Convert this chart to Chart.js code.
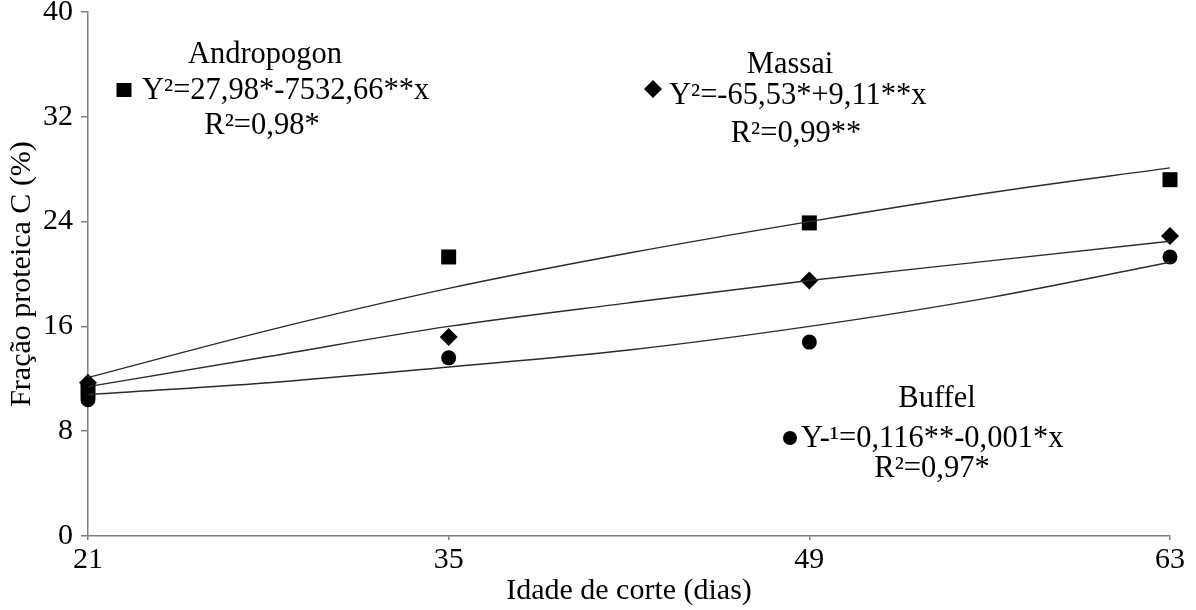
<!DOCTYPE html>
<html>
<head>
<meta charset="utf-8">
<script src="https://cdn.jsdelivr.net/npm/chart.js@4"></script>
<style>
  html, body { margin: 0; padding: 0; background: #fff; }
  #wrap { width: 1196px; height: 610px; }
</style>
</head>
<body>
<div id="wrap"><canvas id="mycanvas" width="1196" height="610"></canvas></div>
<script>
const ctx = document.querySelector("#mycanvas").getContext("2d");

// observed values
const days = [21, 35, 49, 63];
const andropogon = [11.1, 21.3, 23.9, 27.2];
const massai = [11.7, 15.2, 19.5, 22.9];
const buffel = [10.4, 13.6, 14.8, 21.3];

// fitted curves
const fitDays = [21, 28, 35, 42, 49, 56, 63];
const andropogonFit = [12.1, 15.7, 18.9, 21.6, 24.0, 26.2, 28.1];
const massaiFit = [11.4, 13.7, 16.0, 17.8, 19.5, 21.0, 22.5];
const buffelFit = [10.8, 11.7, 12.9, 14.2, 16.0, 18.2, 20.9];

const yTicks = [0, 8, 16, 24, 32, 40];

const FONT = "'Liberation Serif', 'Times New Roman', serif";
const AXIS = "#7f7f7f";

const pts = (xs, ys) => xs.map((x, i) => ({ x, y: ys[i] }));

function fitLine(xs, ys) {
  return {
    type: "line",
    data: pts(xs, ys),
    borderColor: "#2b2b2b",
    borderWidth: 1.4,
    pointRadius: 0,
    cubicInterpolationMode: "monotone",
    fill: false,
    clip: false,
  };
}

function marks(ys, style, radius) {
  return {
    type: "scatter",
    data: pts(days, ys),
    pointStyle: style,
    pointRadius: radius,
    pointHoverRadius: radius,
    backgroundColor: "#000",
    borderColor: "#000",
    borderWidth: 0,
    clip: false,
  };
}

// equation labels and their markers
const notes = [
  { lines: [["Andropogon", 265, 63, "center"], ["Y²=27,98*-7532,66**x", 142, 99, "left"], ["R²=0,98*", 262, 134, "center"]],
    mark: ["rect", 124, 90] },
  { lines: [["Massai", 790, 73, "center"], ["Y²=-65,53*+9,11**x", 669, 104, "left"], ["R²=0,99**", 796, 142, "center"]],
    mark: ["diamond", 653, 89] },
  { lines: [["Buffel", 937, 407, "center"], ["Y-¹=0,116**-0,001*x", 801, 447, "left"], ["R²=0,97*", 932, 477, "center"]],
    mark: ["circle", 790, 438] },
];

const notesPlugin = {
  id: "notes",
  afterDraw(chart) {
    const c = chart.ctx;
    c.save();
    c.fillStyle = "#000";
    c.font = "30.5px " + FONT;
    c.textBaseline = "alphabetic";
    notes.forEach(n => {
      n.lines.forEach(([t, x, y, a]) => {
        c.textAlign = a;
        c.fillText(t, x, y);
      });
      const [s, mx, my] = n.mark;
      c.beginPath();
      if (s === "rect") {
        c.rect(mx - 7.5, my - 7, 15, 14);
      } else if (s === "diamond") {
        c.moveTo(mx, my - 9); c.lineTo(mx + 9, my); c.lineTo(mx, my + 9); c.lineTo(mx - 9, my);
        c.closePath();
      } else {
        c.arc(mx, my, 7, 0, Math.PI * 2);
      }
      c.fill();
    });
    c.restore();
  },
};

const config = {
  data: {
    datasets: [
      fitLine(fitDays, andropogonFit),
      fitLine(fitDays, massaiFit),
      fitLine(fitDays, buffelFit),
      marks(andropogon, "rect", 10.6),
      marks(massai, "rectRot", 9),
      marks(buffel, "circle", 7.5),
    ],
  },
  options: {
    responsive: false,
    animation: false,
    events: [],
    layout: { padding: { top: 0, right: 26, left: 0, bottom: 0 } },
    plugins: { legend: { display: false }, tooltip: { enabled: false } },
    scales: {
      x: {
        type: "linear",
        min: 21,
        max: 63,
        afterBuildTicks: (s) => { s.ticks = days.map(v => ({ value: v })); },
        afterFit: (s) => { s.height = 74; },
        grid: { drawOnChartArea: false, tickLength: 4, color: AXIS, lineWidth: 1.5 },
        border: { color: AXIS, width: 1.5 },
        ticks: { color: "#000", padding: 2, font: { family: FONT, size: 30 } },
        title: {
          display: true,
          text: "Idade de corte (dias)",
          color: "#000",
          font: { family: FONT, size: 30 },
          padding: { top: 0, bottom: 1 },
        },
      },
      y: {
        min: 0,
        max: 40,
        afterBuildTicks: (s) => { s.ticks = yTicks.map(v => ({ value: v })); },
        afterFit: (s) => { s.width = 88; s.paddingTop = 12; },
        grid: { drawOnChartArea: false, tickLength: 7, color: AXIS, lineWidth: 1.5 },
        border: { color: AXIS, width: 1.5 },
        ticks: { color: "#000", padding: 8, font: { family: FONT, size: 30, lineHeight: 0.8 } },
        title: {
          display: true,
          text: "Fração proteica C (%)",
          color: "#000",
          font: { family: FONT, size: 30 },
          padding: { top: 4, bottom: 0 },
        },
      },
    },
  },
  plugins: [notesPlugin],
};

const myChart = new Chart(ctx, config);
</script>
</body>
</html>
